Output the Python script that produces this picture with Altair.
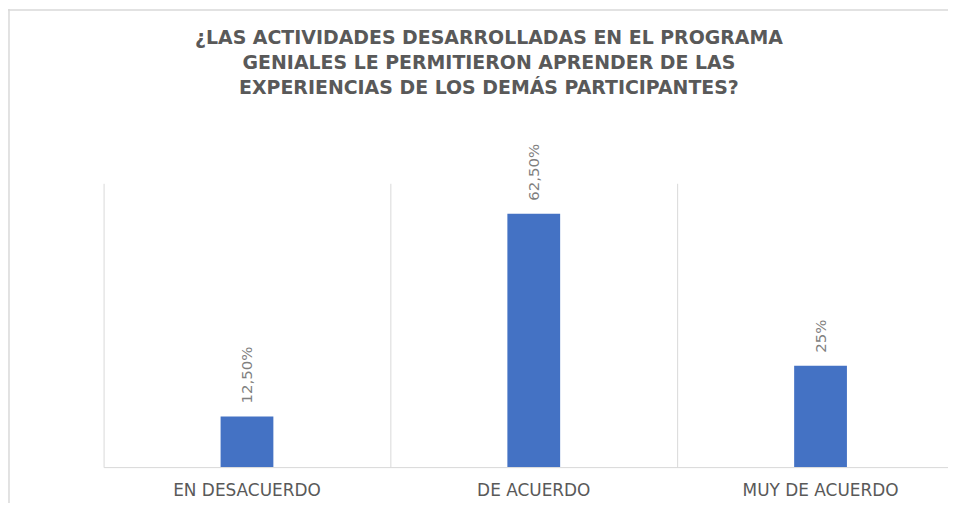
import altair as alt
import pandas as pd

categories = ["EN DESACUERDO", "DE ACUERDO", "MUY DE ACUERDO"]
values = [0.125, 0.625, 0.25]
labels = ["12,50%", "62,50%", "25%"]
title_lines = [
    "¿LAS ACTIVIDADES DESARROLLADAS EN EL PROGRAMA",
    "GENIALES LE PERMITIERON  APRENDER DE LAS",
    "EXPERIENCIAS DE LOS DEMÁS PARTICIPANTES?",
]

df = pd.DataFrame({"cat": categories, "val": values, "lab": labels})

W = 848
H = 285
PAD_L, PAD_T, PAD_R, PAD_B = 96, 175, 0, 36

x = alt.X(
    "cat:N",
    sort=categories,
    title=None,
    scale=alt.Scale(range=[0, 864], paddingInner=0, paddingOuter=0),
    axis=alt.Axis(
        labelAngle=0,
        ticks=False,
        grid=True,
        bandPosition=0,
        gridColor="#d9d9d9",
        gridWidth=1,
        domainColor="#d9d9d9",
        domainWidth=1,
        labelColor="#595959",
        labelFont="DejaVu Sans",
        labelFontSize=17,
        labelPadding=16,
    ),
)
y = alt.Y(
    "val:Q",
    scale=alt.Scale(domain=[0, 0.70], nice=False),
    axis=None,
)

base = alt.Chart(df)
bars = base.mark_bar(size=53, color="#4472C4").encode(x=x, y=y)
text = base.mark_text(
    angle=270,
    align="left",
    baseline="middle",
    dx=13,
    font="DejaVu Sans",
    fontSize=15,
    color="#7f7f7f",
).encode(x=x, y=y, text="lab:N")

frame_df = pd.DataFrame({"a": [0]})
left_border = alt.Chart(frame_df).mark_rule(color="#d9d9d9", strokeWidth=1.5).encode(
    x=alt.value(-95), y=alt.value(-175), y2=alt.value(H + PAD_B)
)
top_border = alt.Chart(frame_df).mark_rule(color="#d9d9d9", strokeWidth=1.5).encode(
    y=alt.value(-174), x=alt.value(-96), x2=alt.value(W)
)

chart = (
    alt.layer(left_border, top_border, bars, text)
    .properties(
        width=W,
        height=H,
        autosize=alt.AutoSizeParams(type="none"),
        padding={"left": PAD_L, "top": PAD_T, "right": PAD_R, "bottom": PAD_B},
        title=alt.TitleParams(
            text=title_lines,
            font="DejaVu Sans",
            fontSize=19,
            fontWeight="bold",
            color="#595959",
            lineHeight=25,
            anchor="middle",
            frame="group",
            dx=-37,
            offset=-90,
        ),
    )
    .configure_view(stroke=None)
)

chart.save("out.html", embed_options={"renderer": "svg", "actions": False})
